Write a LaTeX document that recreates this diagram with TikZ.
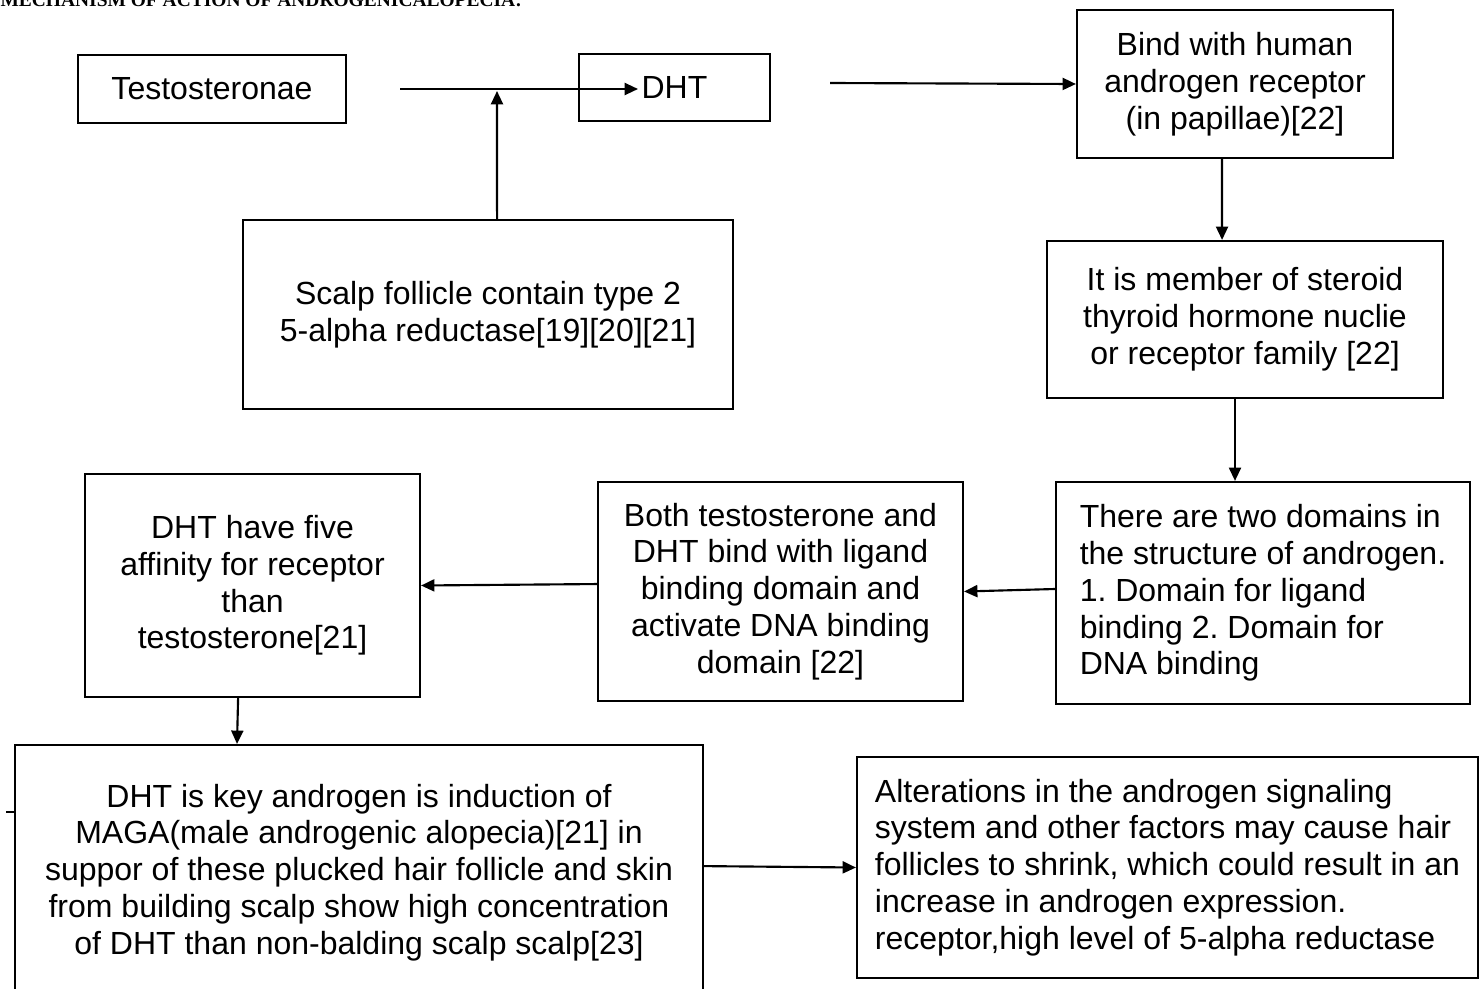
\documentclass[tikz,border=0pt]{standalone}
\usepackage{fontspec}
\setmainfont{Liberation Sans}
\newfontfamily\titlefont{Liberation Serif}
\usetikzlibrary{arrows.meta}
\frenchspacing
\newcommand\pxu{0.375pt}
\tikzset{
  box/.style={draw, line width=0.8pt, rectangle, inner sep=0pt, align=center,
    font=\fontsize{12}{13.8}\selectfont},
  leftbox/.style={box, align=left},
  arr/.style={line width=0.8pt, -{Triangle[length=5pt,width=4.5pt]}}
}
\begin{document}
\begin{tikzpicture}[x=0.375pt,y=-0.375pt]
    \path[use as bounding box, clip] (0,0) rectangle (1483,989);

    \node[anchor=base west, inner sep=0pt, font=\titlefont\bfseries\fontsize{7.3}{8}\selectfont] (title) at (0,6)
      {MECHANISM OF ACTION OF ANDROGENICALOPECIA:};

      \begin{scope}[every node/.style={box}]
        \node[minimum width=268*\pxu, minimum height=68*\pxu] (test) at (212,89) {Testosteronae};
        \node[minimum width=191*\pxu, minimum height=67*\pxu] (dht) at (674.5,87.5) {DHT};
        \node[minimum width=316*\pxu, minimum height=148*\pxu] (bind) at (1235,84)
          {Bind with human\\androgen receptor\\(in papillae)[22]};
        \node[minimum width=490*\pxu, minimum height=189*\pxu] (scalp) at (488,314.5)
          {Scalp follicle contain type 2\\5-alpha reductase[19][20][21]};
        \node[minimum width=396*\pxu, minimum height=157*\pxu] (member) at (1245,319.5)
          {It is member of steroid\\thyroid hormone nuclie\\or receptor family [22]};
        \node[leftbox, minimum width=414*\pxu, minimum height=222*\pxu] (domains) at (1263,593)
          {There are two domains in\\the structure of androgen.\\1. Domain for ligand\\binding 2. Domain for\\DNA binding};
        \node[minimum width=365*\pxu, minimum height=219*\pxu] (both) at (780.5,591.5)
          {Both testosterone and\\DHT bind with ligand\\binding domain and\\activate DNA binding\\domain [22]};
        \node[minimum width=335*\pxu, minimum height=223*\pxu] (five) at (252.5,585.5)
          {DHT have five\\affinity for receptor\\than\\testosterone[21]};
        \node[minimum width=688*\pxu, minimum height=255*\pxu] (key) at (359,872.5)
          {DHT is key androgen is induction of\\MAGA(male androgenic alopecia)[21] in\\suppor of these plucked hair follicle and skin\\from building scalp show high concentration\\of DHT than non-balding scalp scalp[23]};
        \node[leftbox, minimum width=621*\pxu, minimum height=221*\pxu] (alter) at (1167.5,867.5)
          {Alterations in the androgen signaling\\system and other factors may cause hair\\follicles to shrink, which could result in an\\increase in androgen expression.\\receptor,high level of 5-alpha reductase};
      \end{scope}

      \coordinate (tstart) at (400,89);
      \coordinate (dhtin) at (638,89);
      \coordinate (join) at (497,91);
      \coordinate (bstart) at (830,83);

      \draw[arr] (tstart) -- (dhtin);
      \draw[arr] ([xshift=3.4pt]scalp.north) -- (join);
      \draw[arr] (bstart) -- (bind.west);
      \draw[arr] ([xshift=-4.9pt]bind.south) -- ([xshift=-8.6pt]member.north);
      \draw[arr] ([xshift=-3.75pt]member.south) -- ([xshift=-10.5pt]domains.north);
      \draw[arr] ([yshift=1.5pt]domains.west) -- (both.east);
      \draw[arr] ([yshift=2.8pt]both.west) -- (five.east);
      \draw[arr] ([xshift=-5.4pt]five.south) -- ([xshift=-45.75pt]key.north);
      \draw[arr] ([yshift=2.4pt]key.east) -- (alter.west);
      \draw[line width=0.8pt] ([yshift=22.7pt]key.west) -- ++(-8,0);

    \end{tikzpicture}
\end{document}
